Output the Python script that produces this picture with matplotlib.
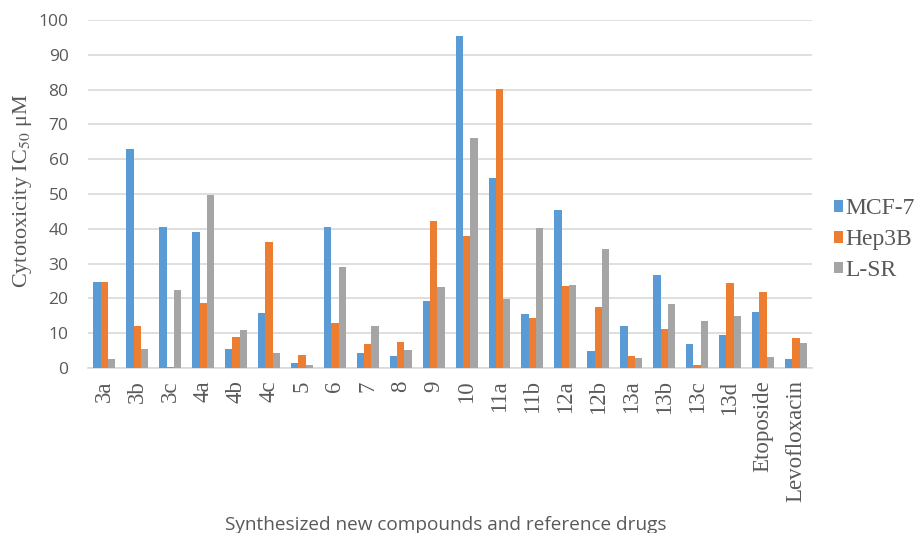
import numpy as np
import matplotlib.pyplot as plt

plt.rcParams['mathtext.fontset'] = 'stix'

compounds = ['3a', '3b', '3c', '4a', '4b', '4c', '5', '6', '7', '8', '9', '10',
             '11a', '11b', '12a', '12b', '13a', '13b', '13c', '13d',
             'Etoposide', 'Levofloxacin']
mcf7 = [24.8, 63.0, 40.5, 39.1, 5.5, 15.8, 1.3, 40.5, 4.3, 3.4, 19.2, 95.3,
        54.5, 15.4, 45.4, 5.0, 12.1, 26.7, 7.0, 9.4, 16.2, 2.5]
hep3b = [24.6, 12.0, 0.3, 18.7, 8.8, 36.2, 3.6, 13.0, 6.8, 7.6, 42.2, 37.9,
         80.1, 14.5, 23.6, 17.5, 3.3, 11.1, 0.8, 24.4, 21.8, 8.7]
lsr = [2.6, 5.5, 22.3, 49.6, 10.9, 4.3, 0.8, 29.0, 12.0, 5.3, 23.3, 66.0,
       19.8, 40.3, 23.8, 34.1, 2.9, 18.3, 13.4, 15.0, 3.2, 7.2]
series = ['MCF-7', 'Hep3B', 'L-SR']
colors = ['#5B9BD5', '#ED7D31', '#A5A5A5']

fig = plt.figure(figsize=(9.21, 5.33), dpi=100)
ax = fig.add_axes([0.0955, 0.3096, 0.7865, 0.653])

x = np.arange(len(compounds))
w = 0.222
for i, (vals, name, c) in enumerate(zip([mcf7, hep3b, lsr], series, colors)):
    ax.bar(x + (i - 1) * w, vals, width=w, color=c, label=name, zorder=3)

ax.set_xlim(-0.5, len(compounds) - 0.5)
ax.set_ylim(0, 100)
ax.set_yticks(range(0, 101, 10))
ax.yaxis.grid(True, color='#D9D9D9', linewidth=1.2, zorder=0)
for s in ['top', 'right', 'left']:
    ax.spines[s].set_visible(False)
ax.spines['bottom'].set_color('#D9D9D9')
ax.spines['bottom'].set_linewidth(1.2)
ax.tick_params(length=0)
ax.tick_params(axis='y', labelsize=12.5, labelcolor='#595959', pad=14)
ax.tick_params(axis='x', pad=9)
for t in ax.get_yticklabels():
    t.set_family('Open Sans')

ax.set_xticks(x)
ax.set_xticklabels(compounds, rotation=90, family='Liberation Serif',
                   fontsize=16.5, color='#595959')

ax.set_ylabel(r'Cytotoxicity IC$_{50}$ μM', family='Liberation Serif',
              fontsize=16, color='#595959')
ax.yaxis.set_label_coords(-0.075, 0.51)
fig.text(0.484, 0.006, 'Synthesized new compounds and reference drugs',
         ha='center', va='baseline', family='Open Sans', fontsize=13.7,
         color='#595959')

fig.legend(loc='center left', bbox_to_anchor=(0.906, 0.55), frameon=False,
           prop={'family': 'Liberation Serif', 'size': 17},
           handlelength=0.36, handleheight=0.36, handletextpad=0.12,
           labelspacing=0.42, labelcolor='#595959', borderaxespad=0,
           borderpad=0)

fig.savefig('out.png', dpi=100)
